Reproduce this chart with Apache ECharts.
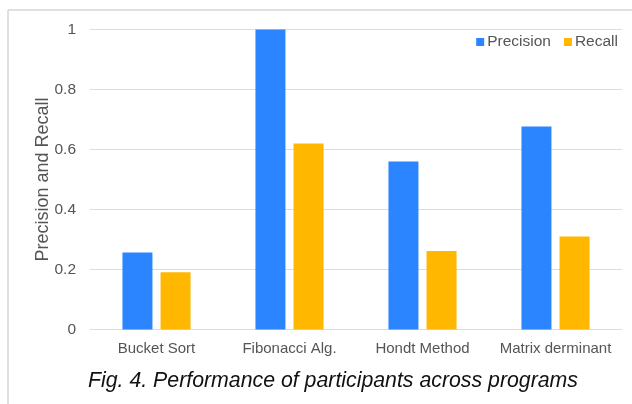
<!DOCTYPE html>
<html>
<head>
<meta charset="utf-8">
<script src="https://cdn.jsdelivr.net/npm/echarts@6/dist/echarts.min.js"></script>
<style>html,body{margin:0;padding:0;background:#fff;}#c{width:632px;height:404px;}</style>
</head>
<body>
<div id="c"></div>
<script>
var categories = ['Bucket Sort', 'Fibonacci Alg.', 'Hondt Method', 'Matrix derminant'];
var precision = [0.257, 1.0, 0.56, 0.677];
var recall = [0.191, 0.62, 0.262, 0.31];
var yTicks = [0, 0.2, 0.4, 0.6, 0.8, 1];
var seriesNames = ['Precision', 'Recall'];
var caption = 'Fig. 4. Performance of participants across programs';

var chart = echarts.init(document.getElementById('c'), null, {renderer: 'canvas'});
var font = 'Arial, "Liberation Sans", sans-serif';
chart.setOption({
  animation: false,
  backgroundColor: '#fff',
  textStyle: {fontFamily: font},
  title: {
    text: caption,
    left: 328,
    textAlign: 'center',
    top: 366,
    textStyle: {fontFamily: font, fontStyle: 'italic', fontWeight: 'normal', fontSize: 21.3, color: '#111'}
  },
  legend: {
    data: seriesNames,
    right: 9,
    top: 29,
    itemWidth: 8,
    itemHeight: 8,
    itemGap: 13,
    icon: 'rect',
    textStyle: {fontSize: 15.5, color: '#555', fontFamily: font, padding: [0, 0, 0, -2]}
  },
  grid: {left: 90, right: 10, top: 29.5, bottom: 74.5, containLabel: false},
  xAxis: {
    type: 'category',
    data: categories,
    axisLine: {show: false},
    axisTick: {show: false},
    axisLabel: {fontSize: 15, color: '#555', margin: 12, fontFamily: font, interval: 0}
  },
  yAxis: {
    type: 'value',
    min: 0,
    max: 1,
    interval: 0.2,
    name: 'Precision and Recall',
    nameLocation: 'middle',
    nameGap: 38,
    nameMoveOverlap: false,
    nameTextStyle: {fontSize: 18, color: '#555', fontFamily: font},
    axisLine: {show: false},
    axisTick: {show: false},
    axisLabel: {
      fontSize: 15.5, color: '#555', margin: 14, fontFamily: font,
      formatter: function (v) {
        for (var i = 0; i < yTicks.length; i++) { if (Math.abs(yTicks[i] - v) < 1e-9) return String(yTicks[i]); }
        return '';
      }
    },
    splitLine: {lineStyle: {color: '#dcdcdc', width: 1}}
  },
  series: [
    {name: seriesNames[0], type: 'bar', data: precision, barWidth: 30, barGap: '27%',
     itemStyle: {color: '#2B85FF'}},
    {name: seriesNames[1], type: 'bar', data: recall, barWidth: 30,
     itemStyle: {color: '#FFB700'}}
  ],
  graphic: [
    {type: 'line', shape: {x1: 8, y1: 10, x2: 632, y2: 10}, style: {stroke: '#d6d6d6', lineWidth: 1.5}, silent: true},
    {type: 'line', shape: {x1: 8, y1: 10, x2: 8, y2: 404}, style: {stroke: '#d6d6d6', lineWidth: 1.5}, silent: true}
  ]
});
</script>
</body>
</html>
